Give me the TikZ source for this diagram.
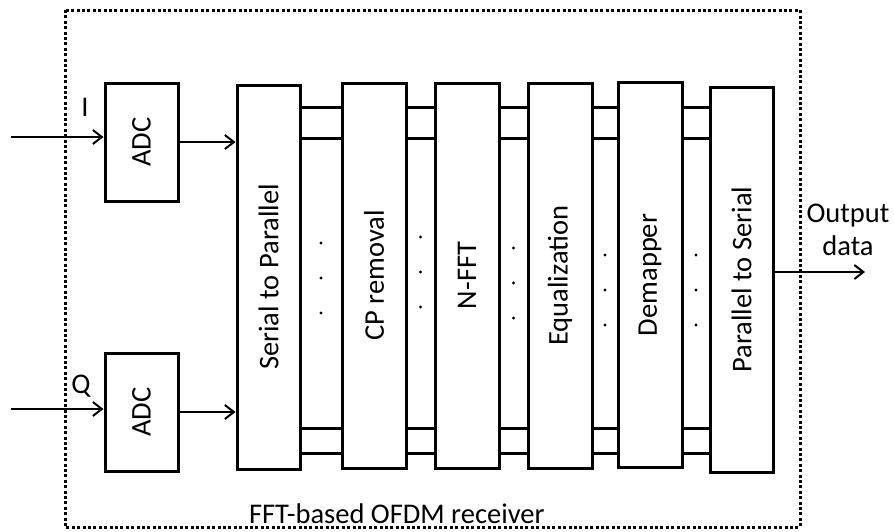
\documentclass[tikz,border=0pt]{standalone}
\usepackage{fontspec}
\setmainfont{Carlito}
\usepackage{graphicx}
\usepackage{tikz}
\usetikzlibrary{calc, arrows.meta}

\begin{document}
\begin{tikzpicture}[
  x=0.5pt, y=-0.5pt,
  font=\fontsize{14.25pt}{16.5pt}\selectfont,
  adc/.style={draw, line width=1.5pt, minimum width=36.5pt,
              minimum height=59pt, inner sep=0pt},
  blk/.style={draw, line width=1.5pt, minimum width=32pt,
              minimum height=192.5pt, inner sep=0pt},
  arrow/.style={-{Straight Barb[length=4.5pt, width=7pt]}, line width=1pt},
  bus/.style={line width=1.5pt},
]
  \useasboundingbox (0,0) rectangle (894,531);

  % Receiver frame
  \draw[line width=1.5pt, dash pattern=on 1.5pt off 1.2pt] (65,10) rectangle (800,527);
  \node[anchor=base west] (rxlbl) at (242,523) {FFT-based OFDM receiver};

  % Converters
  \node[adc] (adcI) at (141.5,142) {\rotatebox{90}{ADC}};
  \node[adc] (adcQ) at (141.5,412) {\rotatebox{90}{ADC}};

  % Processing blocks
  \node[blk, minimum width=31.5pt, minimum height=192pt] (sp) at (268.5,277) {\rotatebox{90}{Serial to Parallel}};
  \node[blk] (cp)  at (374,275.5) {\rotatebox{90}{CP removal}};
  \node[blk] (fft) at (467,275.5) {\rotatebox{90}{N-FFT}};
  \node[blk] (eq)  at (560,275.5) {\rotatebox{90}{Equalization}};
  \node[blk] (dem) at (650,275)   {\rotatebox{90}{Demapper}};
  \node[blk, minimum width=31.5pt] (ps) at (741.5,279.5) {\rotatebox{90}{Parallel to Serial}};

  % Inputs
  \coordinate (inI) at (11,137);
  \coordinate (inQ) at (11,409);
  \draw[arrow] (inI) -- (inI -| adcI.west);
  \draw[arrow] (inQ) -- (inQ -| adcQ.west);
  \node (lblI) at (85,107) {I};
  \node (lblQ) at (81,386) {Q};
  \draw[arrow] (adcI.east) -- (adcI.east -| sp.west);
  \draw[arrow] (adcQ.east) -- (adcQ.east -| sp.west);

  % Parallel lines and dots between blocks
  \foreach \a/\b/\dy in {sp/cp/243, cp/fft/237, fft/eq/248, eq/dem/255, dem/ps/255} {
    \foreach \y in {107,138,428,453}
      \draw[bus] (\a.east |- 0,\y) -- (\b.west |- 0,\y);
    \coordinate (gap) at ($(\a.east)!0.5!(\b.west)$);
    \foreach \k in {0,1,2} {
      \pgfmathsetmacro{\yy}{\dy+35*\k}
      \fill (gap |- 0,\yy) circle[radius=0.8pt];
    }
  }

  % Output
  \coordinate (out) at (865,272);
  \draw[arrow] (out -| ps.east) -- (out);
  \node[align=center] (outlbl) at (848,230) {Output\\data};
\end{tikzpicture}
\end{document}
